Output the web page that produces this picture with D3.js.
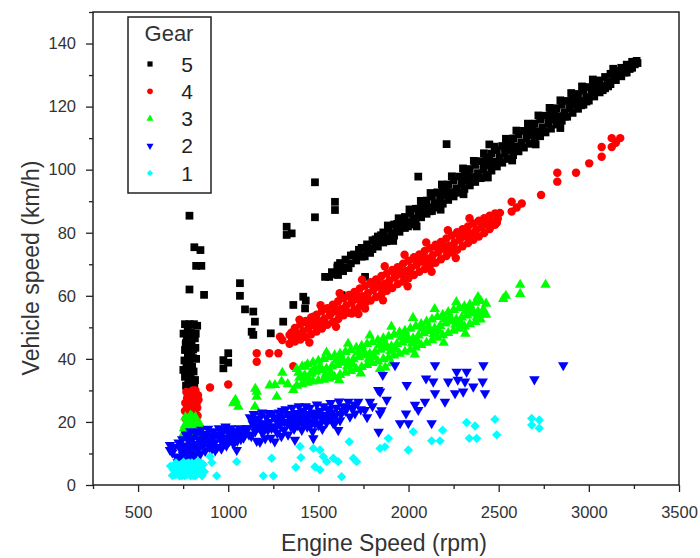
<!DOCTYPE html>
<html>
<head>
<meta charset="utf-8">
<script src="https://cdn.jsdelivr.net/npm/d3@7"></script>
<style>
  body { margin: 0; background: #fff; }
  text { font-family: "Liberation Sans", Arial, sans-serif; }
</style>
</head>
<body>
<div id="scatter"></div>
<script>

// axis ticks
const xTicks = [500, 1000, 1500, 2000, 2500, 3000, 3500];
const xMinorTicks = [250, 750, 1250, 1750, 2250, 2750, 3250];
const yTicks = [0, 20, 40, 60, 80, 100, 120, 140];
const yMinorTicks = [10, 30, 50, 70, 90, 110, 130, 150];

// legend order (top to bottom)
const gears = ["5", "4", "3", "2", "1"];

// [engine rpm, vehicle km/h]
const gear5 = [
  [785,85.4],[812,75.4],[846,74.5],[822,69.5],[851,69.5],[785,62.0],[866,60.3],
  [760,51],[785,51],[810,51],[828,50.5],[770,47],[797,45],[815,46.5],[806,43],[760,42.8],[790,42.5],
  [797,41.8],[806,40.2],[780,39],[800,37.5],[751,36.5],[788,35.4],[772,35.2],[760,34.3],[816,33.3],
  [778,32.2],[766,31.5],[797,30.7],
  [752,48],[765,45],[775,49.5],[782,44],[792,48.5],[803,47.5],[820,48],[757,39.5],[768,37.5],
  [776,41],[786,38],[795,33.5],[808,36],[770,30.5],[783,29.8],[812,31.5],[822,40],[818,43.5],[764,44.5],
  [1065,64],[1065,60],[1093,55.7],[1139,55],[1148,51.8],[1130,48.6],[1139,47.6],[1236,48.1],
  [1305,51.8],[1361,57.1],[1416,59.7],[1426,56],[1430,58.5],
  [1000,41.8],[973,39.6],[1000,38.8],[973,37],
  [1324,81.9],[1352,79.8],[1324,79.3],[1481,96],[1481,84.9],[1592,89.8],[1592,87.2],
  [1537,66],[1609,66.6],[1759,66],[1629,60.2],[2054,97.8],[2211,108.1],[2448,108],
  [1560,66.0],[1575,67.5],[1590,66.8],[1605,69.0],[1620,68.2],[1620,70.4],[1650,69.1],[1650,71.5],
  [1680,70.3],[1680,72.8],[1700,73.0],[1710,71.2],[1725,74.6],[1740,72.4],[1740,75.2],[1770,73.9],
  [1770,76.3],[1785,75.0],[1800,74.8],[1800,77.6],[1815,76.2],[1830,75.6],[1830,78.8],[1845,77.4],
  [1860,76.9],[1860,80.1],[1875,78.6],[1890,78.0],[1890,81.2],[1905,79.9],[1920,79.1],[1920,82.6],
  [1935,81.0],[1950,80.3],[1950,83.9],[1965,82.4],[1980,81.5],[1980,85.0],[1995,83.3],[2010,82.6],
  [2010,86.3],[2025,84.6],[2040,83.7],[2040,87.6],[2055,85.8],[2070,84.9],[2070,88.9],[2085,87.0],
  [2100,86.0],[2100,90.2],[2115,88.1],[2130,86.9],[2130,91.5],[2145,89.4],[2160,88.1],[2160,92.8],
  [2175,90.5],[2190,89.2],[2190,94.0],[2205,91.8],[2220,90.4],[2220,95.3],[2235,92.9],[2250,91.5],
  [2250,96.6],[2265,94.1],[2280,92.7],[2280,97.8],[2295,95.3],[2310,93.9],[2310,99.0],[2325,96.5],
  [2340,95.0],[2340,100.2],[2355,97.7],[2370,96.1],[2370,101.5],[2385,98.9],[2400,97.3],[2400,102.7],
  [2415,100.1],[2430,98.4],[2430,103.9],[2445,101.3],[2460,99.7],[2460,105.1],[2475,102.5],[2490,101.0],
  [2490,106.2],[2505,103.8],[2520,102.2],[2520,107.5],[2535,105.0],[2550,103.4],[2550,108.7],[2565,106.2],
  [2580,104.6],[2580,109.9],[2595,107.4],[2610,105.8],[2610,111.1],[2625,108.6],[2640,107.0],[2640,112.3],
  [2655,109.8],[2670,108.2],[2670,113.4],[2685,111.0],[2700,109.4],[2700,114.6],[2715,112.2],[2730,110.6],
  [2730,115.9],[2745,113.4],[2760,111.8],[2760,117.1],[2775,114.6],[2790,113.0],[2790,118.3],[2805,115.8],
  [2820,114.3],[2820,119.5],[2835,117.0],[2850,115.5],[2850,120.6],[2865,118.2],[2880,116.8],[2880,121.8],
  [2895,119.4],[2910,118.0],[2910,122.9],[2925,120.6],[2940,119.3],[2940,124.0],[2955,121.8],[2970,120.6],
  [2970,125.1],[2985,123.0],[3000,121.9],[3000,126.2],[3015,124.1],[3030,123.2],[3030,127.2],[3045,125.3],
  [3060,124.5],[3060,128.3],[3075,126.5],[3090,125.8],[3090,129.4],[3105,127.7],[3120,127.1],[3120,130.4],
  [3135,128.8],[3135,132.0],[3150,128.4],[3150,131.4],[3165,130.0],[3180,129.6],[3180,132.3],[3195,131.0],
  [3210,130.8],[3210,133.3],[3225,132.0],[3240,132.3],[3240,134.2],[3255,133.4],[3265,134.5],[3270,133.8],
  [1885,82.3],[1945,84.6],[2005,87.4],[2068,90.1],[2122,92.6],[2185,95.3],[2240,97.9],[2302,100.4],
  [2362,102.8],[2418,105.2],[2478,107.3],[2540,109.8],[2598,112.4],[2662,114.6],[2720,117.2],[2782,119.6],
  [2842,122.0],[2902,124.3],[2962,126.4],[3022,128.6],[1915,77.4],[2045,82.0],[2178,87.3],[2305,92.2],
  [2440,97.5],[2575,102.9],[2705,108.0],[2842,113.2],
  [1607,69.6],[1667,68.8],[1727,74.4],[1787,73.6],[1847,79.2],[1907,78.4],[1967,84.0],[2027,83.2],
  [2087,88.8],[2147,88.0],[2207,93.6],[2267,92.8],[2327,98.4],[2387,97.6],[2447,103.2],[2507,102.4],
  [2567,108.0],[2627,107.2],[2687,112.8],[2747,112.0],[2807,117.6],[2867,116.8],[2927,122.4],[2987,121.6],
  [3047,127.2],[3107,126.4],[3167,131.2],[3227,132.0],
  [1637,67.8],[1697,73.1],[1757,72.5],[1817,77.9],[1877,77.3],[1937,82.8],[1997,82.0],[2057,87.6],
  [2117,86.8],[2177,92.4],[2237,91.6],[2297,97.2],[2357,96.4],[2417,102.0],[2477,101.2],[2537,106.8],
  [2597,106.0],[2657,111.6],[2717,110.8],[2777,116.4],[2837,115.6],[2897,121.2],[2957,120.4],[3017,126.0],
  [3077,125.2],[3137,130.0],[3197,130.8]
];

const gear4 = [
  [765,21],[770,24],[772,27.5],[780,22.5],[788,29],[795,25.5],[800,21.5],[805,28],[812,23.5],
  [818,30],[825,26],[830,22],[832,28.5],[790,26.5],[808,19.8],[760,23.5],
  [762,26],[768,29.5],[776,25],[784,20.5],[798,23.5],[803,30],[815,26.5],[822,21],[828,24.5],
  [835,27],[778,28.5],[795,27.8],
  [899,30.9],[1000,31.9],[1158,41.8],[1158,39.1],[1228,41.8],[1278,41.8],[1361,37.7],
  [1287,47],[1300,46],[1361,48.6],[1426,51.8],[1472,53.4],[1685,54.4],[1759,56],
  [1340,44.8],[1340,47.6],[1355,46.2],[1370,45.5],[1370,49.8],[1385,47.9],[1400,46.1],[1400,50.9],
  [1415,48.8],[1430,46.9],[1430,52.0],[1445,49.6],[1460,47.8],[1460,53.1],[1475,50.7],[1490,48.7],
  [1490,54.0],[1505,51.9],[1520,49.6],[1520,55.2],[1535,52.8],[1550,50.8],[1550,56.1],[1565,53.9],
  [1580,51.7],[1580,57.2],[1595,55.0],[1610,52.6],[1610,58.3],[1625,55.8],[1640,53.8],[1640,59.2],
  [1655,56.9],[1670,54.6],[1670,60.3],[1685,57.8],[1700,55.7],[1700,61.2],[1715,59.0],[1730,56.6],
  [1730,62.3],[1745,59.9],[1760,57.7],[1760,63.2],[1775,60.8],[1790,58.5],[1790,64.3],[1805,61.8],
  [1820,59.6],[1820,65.2],[1835,62.9],[1850,60.5],[1850,66.3],[1865,63.8],[1880,61.6],[1880,67.1],
  [1895,64.9],[1910,62.5],[1910,68.2],[1925,65.9],[1940,63.7],[1940,69.1],[1955,66.8],[1970,64.5],
  [1970,70.2],[1985,67.9],[2000,65.6],[2000,71.1],[2015,68.9],[2030,66.6],[2030,72.2],[2045,69.8],
  [2060,67.6],[2060,73.1],[2075,70.9],[2090,68.5],[2090,74.2],[2105,71.8],[2120,69.7],[2120,75.1],
  [2135,72.9],[2150,70.5],[2150,76.2],[2165,73.8],[2180,71.6],[2180,77.1],[2195,74.9],[2210,72.6],
  [2210,78.2],[2225,75.8],[2240,73.7],[2240,79.1],[2255,76.9],[2270,74.6],[2270,80.2],[2285,77.8],
  [2300,75.7],[2300,81.1],[2315,78.9],[2330,76.7],[2330,82.0],[2345,79.8],[2360,77.8],[2360,82.9],
  [2375,80.9],[2390,78.8],[2390,83.8],[2405,81.8],[2420,79.9],[2420,84.6],[2435,82.7],[2450,81.2],
  [2450,85.4],[2465,83.6],[2480,82.5],[2480,86.1],[2495,84.4],
  [1395,52.4],[1512,57.0],[1618,60.8],[1742,65.1],[1868,69.4],[1978,73.0],[2098,76.9],[2218,80.8],
  [2338,84.6],[1450,45.2],[1598,50.2],[1722,54.2],[1858,58.6],[1995,63.0],[2128,67.6],[2262,72.0],
  [1350,48.3],[1410,47.3],[1470,52.3],[1530,51.3],[1590,56.3],[1650,55.3],[1710,60.3],[1770,59.3],
  [1830,64.3],[1890,63.3],[1950,68.3],[2010,67.2],[2070,72.2],[2130,71.2],[2190,76.2],[2250,75.2],
  [2310,80.2],[2370,79.2],[2430,84.2],[2490,83.2],
  [1380,46.3],[1440,51.3],[1500,50.3],[1560,55.3],[1620,54.3],[1680,59.3],[1740,58.3],[1800,63.3],
  [1860,62.3],[1920,67.3],[1980,66.2],[2040,71.2],[2100,70.2],[2160,75.2],[2220,74.2],[2280,79.2],
  [2340,78.2],[2400,83.2],[2460,82.2],
  [2507,86.3],[2572,86.7],[2572,89.8],[2600,88],[2628,89.3],[2735,92],[2825,96.2],[2825,99],
  [2929,99],[3002,102],[3071,104.1],[3071,107.2],[3127,107.2],[3127,110],[3150,108.5],[3174,110]
];

const gear3 = [
  [750,16],[760,19],[765,17.5],[772,21],[778,15.5],[785,18.5],[790,22],[795,16.8],[800,19.8],
  [808,15.3],[812,18],[818,21.5],[825,16.2],[832,19],[840,15.5],[850,17],[780,20.5],
  [755,18],[762,21.5],[770,16],[776,18.8],[788,15.8],[798,21.8],[805,17.5],[815,16.5],[822,19.5],
  [835,17.5],[845,19],[772,19.2],
  [1028,25.9],[1040,27],[1056,24.8],[1148,24.8],[1158,29.6],[1158,28],[1150,30.5],[1230,31.6],
  [1259,31.7],[1269,28],[1296,32.8],[1300,35.6],[1330,32],[1361,30.1],[1416,34.3],[1426,37.5],[1462,35.4],
  [1380,31.5],[1380,36.8],[1395,34.0],[1410,32.0],[1410,37.6],[1425,34.8],[1440,32.4],[1440,38.3],
  [1455,35.3],[1470,32.8],[1470,38.9],[1485,35.9],[1500,33.1],[1500,39.4],[1515,36.4],[1530,33.4],
  [1530,40.0],[1545,36.9],[1560,33.8],[1560,40.5],[1575,37.6],[1590,34.3],[1590,41.1],[1605,38.1],
  [1620,34.9],[1620,41.6],[1635,38.8],[1650,35.6],[1650,42.2],[1665,39.3],[1680,36.2],[1680,42.8],
  [1695,39.9],[1710,36.8],[1710,43.5],[1725,40.5],[1740,37.4],[1740,44.1],[1755,41.1],[1770,38.1],
  [1770,44.7],[1785,41.6],[1800,38.7],[1800,45.3],[1815,42.3],[1830,39.2],[1830,45.9],[1845,42.9],
  [1842,36.8],[1860,39.9],[1860,46.5],[1871,37.3],[1875,43.5],[1890,40.4],[1890,47.1],[1905,44.0],
  [1920,41.1],[1920,47.7],[1935,44.7],[1950,41.6],[1950,48.4],[1965,45.2],[1980,42.3],[1980,48.9],
  [1995,45.9],[2010,42.9],[2010,49.6],[2025,46.5],[2040,43.6],[2040,50.3],[2055,47.4],[2070,44.4],
  [2070,51.0],[2085,48.1],[2100,45.1],[2100,51.8],[2115,48.8],[2130,45.9],[2130,52.5],[2145,49.7],
  [2160,46.7],[2160,53.3],[2175,50.4],[2190,47.5],[2190,54.0],[2205,51.2],[2220,48.2],[2220,54.8],
  [2235,51.9],[2250,48.9],[2250,55.5],[2265,52.5],[2280,49.6],[2280,56.1],[2295,53.1],[2310,50.3],
  [2310,56.7],[2325,53.8],[2340,51.0],[2340,57.2],[2355,54.4],[2370,51.7],[2370,57.8],[2385,55.0],
  [2400,52.5],[2400,58.4],[2415,55.6],[2430,54.0],[2430,57.5],
  [1545,42.0],[1665,44.8],[1785,47.4],[1905,50.2],[2025,53.0],[2145,55.8],[2265,58.0],[2385,59.6],
  [1615,33.2],[1735,35.4],[1905,38.6],[2035,41.4],[2195,45.1],[2315,48.0],
  [1390,35.6],[1450,33.4],[1510,37.6],[1570,35.5],[1630,40.2],[1690,38.2],[1750,42.6],[1810,40.6],
  [1870,45.0],[1930,43.0],[1990,47.4],[2050,45.6],[2110,50.3],[2170,48.7],[2230,53.3],[2290,51.4],
  [2350,55.9],[2410,54.1],
  [1420,32.9],[1480,37.1],[1540,35.0],[1600,39.5],[1660,37.6],[1720,42.0],[1780,40.0],[1840,44.4],
  [1900,42.4],[1960,46.8],[2020,44.9],[2080,49.6],[2140,47.9],[2200,52.6],[2260,50.8],[2320,55.3],
  [2380,53.4],
  [2525,59],[2540,60],[2619,60.6],[2619,63.5],[2760,63.5]
];

const gear2 = [
  [677,12.7],[677,11.1],[690,10.3],[720,7.2],[733,8.5],[740,11],[745,14.5],[750,9.5],[760,12.5],
  [765,16],[770,10.5],[780,14],[785,8.8],[790,17],[795,12],[800,10],[805,15],[812,9.2],[818,13],
  [825,16.5],[830,11],[838,14.2],[845,9.8],[850,17.5],[858,12.5],[865,15.5],[872,10.8],[880,14],
  [888,17.8],[895,12],[902,15.8],[910,11.5],[918,17],[925,13.5],[932,16],[940,12],[948,18],
  [955,14.5],[962,11.5],[970,16.8],[978,13.2],[985,18.5],[992,15],[1000,17.5],[1008,14],[1015,18],
  [1022,15.8],[1030,13],[1038,17],[1047,11.1],[1055,16],[1062,18],[1070,14.5],[1080,17.2],[1090,16.5],
  [1100,18],
  [700,12],[712,9],[725,13.5],[735,11.5],[748,7.8],[755,12.2],[768,8],[775,15.5],[788,11.5],
  [808,12.5],[815,16.8],[835,12],[842,17],[855,14.5],[868,13],[878,16.2],[892,14.5],[905,13.2],
  [915,15],[928,11],[945,15.5],[960,17.2],[975,15],[990,12.5],[1005,16],[1020,17],[1035,15],
  [1050,14],[1068,16.8],[1085,15],
  [1110,18],[1120,21.5],[1128,15.5],[1135,19.5],[1142,22.5],[1150,17],[1158,14],[1165,20.5],
  [1172,18.2],[1176,13.7],[1182,22],[1190,16.5],[1198,19.5],[1205,14.8],[1212,21.5],[1220,17.5],
  [1228,20],[1235,15],[1242,22.5],[1250,18.5],[1258,13.8],[1265,20.8],[1272,16.5],[1280,23],
  [1288,19],[1295,15.5],[1302,21.5],[1310,17.5],[1318,24],[1325,19.8],[1332,16],[1340,22],
  [1348,18.5],[1355,24.5],[1362,20.5],[1370,14.3],[1378,22.8],[1385,19],[1392,25],[1400,21],
  [1408,17.5],[1415,23.5],[1422,20],[1430,25],[1438,18.5],[1445,22],[1452,24.5],[1460,20],
  [1468,17],[1472,14.8],[1478,23],[1485,21],[1492,25.5],[1500,19],[1508,23.5],[1515,21.5],
  [1522,17.8],[1530,25],[1538,22.2],[1545,19.8],[1552,24],[1560,21],[1568,26],[1575,23],
  [1582,19.6],[1592,19.6],[1600,24.5],[1610,17.4],[1615,26.5],[1625,22.5],[1640,25],[1650,23.5],
  [1666,26.4],[1675,21.7],[1690,24.2],[1703,22.7],[1721,26.4],[1735,24],[1758,23.8],[1770,21.5],
  [1786,26.4],[1800,25],
  [1115,16],[1132,20.5],[1145,18.5],[1160,21],[1175,19.5],[1188,23],[1200,17.5],[1215,19.5],
  [1225,22.8],[1240,18],[1255,21.5],[1268,18.5],[1285,21],[1298,23.5],[1312,20],[1328,22.5],
  [1342,19.5],[1358,22],[1365,17.8],[1380,20.5],[1395,22.5],[1410,19.5],[1425,22.5],[1440,21],
  [1455,18.8],[1465,22.5],[1480,19.5],[1495,22.5],[1512,19.5],[1528,21.5],[1548,22],[1562,24],
  [1578,21.5],[1595,22],[1620,20.5],[1635,23.5],[1660,24.5],[1700,25.5],
  [1832,30.1],[1842,29.6],[1842,22.7],[1834,16.9],[1850,23.7],[1857,34.9],[1879,27],[1925,38],
  [1953,19.6],[1986,22.7],[1990,31.7],[1999,19.6],[2036,25.4],[2054,23.8],[2091,26.4],[2097,33.8],
  [2128,19.6],[2137,32.8],[2147,38],[2147,29.1],[2202,26.4],[2220,32.8],[2258,29.1],[2267,35.9],
  [2273,33.4],[2303,29.6],[2313,32.8],[2322,35.9],[2359,31.2],[2411,32.8],[2415,38],[2424,29.1],
  [2698,33.5],[2858,38]
];

const gear1 = [
  [680,6],[690,3],[700,5],[710,7],[715,3.5],[720,4.2],[722,5.5],[730,2.9],[738,6.5],[745,4],
  [752,7.2],[758,3],[760,6],[765,5.2],[772,6.8],[778,3.5],[785,5.8],[792,2.9],[798,7],[800,3.2],
  [805,4.5],[812,6.2],[818,3],[825,5.5],[832,7.5],[840,3.8],[848,5.8],[855,2.9],[862,6.5],
  [695,4.8],[705,3.2],[727,6.2],[742,2.9],[748,5.5],[768,3.2],[782,7],[788,4.5],[808,2.9],
  [820,7],[828,3.5],[845,4.5],[850,7],[868,4.2],[735,4.5],
  [899,9],[909,7.1],[936,2.9],[1047,7.4],[1194,2.9],[1241,8.5],[1250,2.9],
  [1375,5.6],[1398,12.2],[1403,8.7],[1472,11.6],[1481,5.8],[1509,11.1],[1509,4.8],[1527,9],
  [1546,7.4],[1583,8.5],[1610,7.4],[1629,2.6],[1671,13.7],[1694,8.5],[1712,7.4],
  [1842,11.6],[1869,12.1],[1888,14.8],[1999,11.1],[2026,16.9],[2128,14],[2174,14],[2189,17.4],
  [2322,19.8],[2337,14.8],[2369,18.7],[2378,14.8],[2479,20.8],[2489,15.9],
  [2683,21.1],[2683,19],[2725,20.6],[2725,18]
];

const svgWidth = 700;
const svgHeight = 558;

const margin = {
  top: 12,
  right: 21,
  bottom: 73,
  left: 93
};

const width = svgWidth - margin.left - margin.right;
const height = svgHeight - margin.top - margin.bottom;

const svg = d3.select("#scatter")
  .append("svg")
  .attr("width", svgWidth)
  .attr("height", svgHeight);

const chartGroup = svg.append("g")
  .attr("transform", `translate(${margin.left}, ${margin.top})`);

const xScale = d3.scaleLinear().domain([250, 3500]).range([0, width]);
const yScale = d3.scaleLinear().domain([0, 150]).range([height, 0]);

// marker style for every gear
const styles = {
  "5": { color: "#000000", symbol: d3.symbolSquare, size: 60, rotate: 0 },
  "4": { color: "#ff0000", symbol: d3.symbolCircle, size: 56, rotate: 0 },
  "3": { color: "#00ff00", symbol: d3.symbolTriangle, size: 48, rotate: 0 },
  "2": { color: "#0000ff", symbol: d3.symbolTriangle, size: 48, rotate: 180 },
  "1": { color: "#00ffff", symbol: d3.symbolSquare, size: 44, rotate: 45 }
};
const series = { "5": gear5, "4": gear4, "3": gear3, "2": gear2, "1": gear1 };

gears.forEach(g => {
  const st = styles[g];
  chartGroup.append("g")
    .selectAll("path")
    .data(series[g])
    .enter()
    .append("path")
    .attr("transform", d => `translate(${xScale(d[0])}, ${yScale(d[1])}) rotate(${st.rotate})`)
    .attr("d", d3.symbol().type(st.symbol).size(st.size))
    .attr("fill", st.color);
});

// axes: major + minor ticks, pointing outward
function styleAxis(sel) {
  sel.select(".domain").remove();
  sel.selectAll("line").attr("stroke", "#222").attr("stroke-width", 1.3);
  sel.selectAll("text")
    .attr("fill", "#333")
    .style("font-size", "16.5px");
}

chartGroup.append("g")
  .attr("transform", `translate(0, ${height})`)
  .call(d3.axisBottom(xScale).tickValues(xTicks).tickSize(7).tickPadding(14).tickFormat(d3.format("d")))
  .call(styleAxis);

chartGroup.append("g")
  .attr("transform", `translate(0, ${height})`)
  .call(d3.axisBottom(xScale).tickValues(xMinorTicks).tickSize(4).tickFormat(""))
  .call(styleAxis);

chartGroup.append("g")
  .call(d3.axisLeft(yScale).tickValues(yTicks).tickSize(7).tickPadding(10).tickFormat(d3.format("d")))
  .call(styleAxis);

chartGroup.append("g")
  .call(d3.axisLeft(yScale).tickValues(yMinorTicks).tickSize(4).tickFormat(""))
  .call(styleAxis);

// plot frame
chartGroup.append("rect")
  .attr("x", 0)
  .attr("y", 0)
  .attr("width", width)
  .attr("height", height)
  .attr("fill", "none")
  .attr("stroke", "#222")
  .attr("stroke-width", 1.5);

// axis titles
svg.append("text")
  .attr("x", margin.left + width / 2 - 2)
  .attr("y", 551)
  .attr("text-anchor", "middle")
  .attr("fill", "#333")
  .style("font-size", "23px")
  .text("Engine Speed (rpm)");

svg.append("text")
  .attr("transform", "rotate(-90)")
  .attr("x", -268)
  .attr("y", 39)
  .attr("text-anchor", "middle")
  .attr("fill", "#333")
  .style("font-size", "23px")
  .text("Vehicle speed (km/h)");

// legend
const legend = svg.append("g");

legend.append("rect")
  .attr("x", 128)
  .attr("y", 17)
  .attr("width", 83)
  .attr("height", 176)
  .attr("fill", "#fff")
  .attr("stroke", "#222")
  .attr("stroke-width", 1.5);

legend.append("text")
  .attr("x", 169)
  .attr("y", 41)
  .attr("text-anchor", "middle")
  .attr("fill", "#333")
  .style("font-size", "22px")
  .text("Gear");

gears.forEach((g, i) => {
  const st = styles[g];
  const cy = 64 + i * 27.3;
  legend.append("path")
    .attr("transform", `translate(150, ${cy}) rotate(${st.rotate})`)
    .attr("d", d3.symbol().type(st.symbol).size(st.size * 0.45))
    .attr("fill", st.color);
  legend.append("text")
    .attr("x", 187)
    .attr("y", cy + 7.5)
    .attr("text-anchor", "middle")
    .attr("fill", "#222")
    .style("font-size", "21px")
    .text(g);
});

</script>
</body>
</html>
